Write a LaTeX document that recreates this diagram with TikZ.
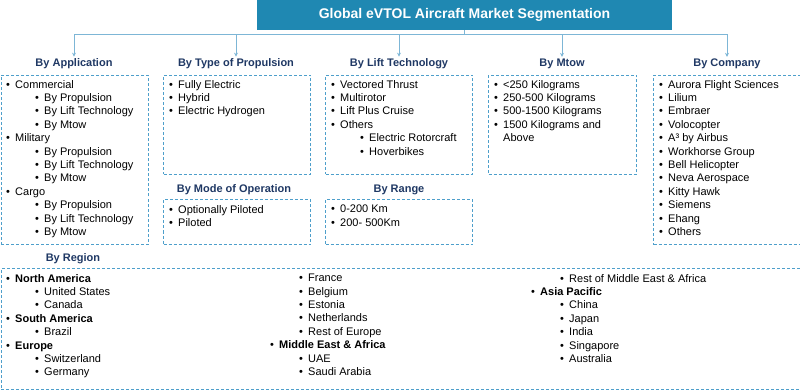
\documentclass[tikz,border=0pt]{standalone}
\usepackage{fontspec}
\setmainfont{Liberation Sans}
\usetikzlibrary{arrows.meta}
\usetikzlibrary{positioning}
\definecolor{azultitulo}{HTML}{1F88B2}
\definecolor{azullinha}{HTML}{7DB6D6}
\definecolor{azulborda}{HTML}{4E9FCB}
\definecolor{azulescuro}{HTML}{1F3864}
\newcommand{\ia}{\makebox[9pt][l]{•}}
\newcommand{\ib}{\hspace*{29pt}\makebox[9pt][l]{•}}
\tikzset{
  titulo/.style={fill=azultitulo, text=white, font=\fontsize{14}{16}\selectfont\bfseries, minimum width=415pt, minimum height=30pt, inner sep=0pt},
  cabeca/.style={text=azulescuro, font=\fontsize{11}{13}\selectfont\bfseries, inner sep=2pt},
  grupo/.style={draw=azulborda, dash pattern=on 3pt off 2pt, line width=1pt, inner sep=0pt, anchor=north west},
  lista/.style={anchor=north west, align=left, inner sep=0pt, font=\fontsize{11}{13.4}\selectfont},
  seta/.style={-{Stealth[length=4pt,width=4pt]}, draw=azullinha, line width=1pt},
}

\begin{document}
\begin{tikzpicture}[x=1pt, y=-1pt]
  \useasboundingbox (0,0) rectangle (800,390);
  \node[titulo] (titulo) at (464.5,15) {Global eVTOL Aircraft Market Segmentation};
  \coordinate (barra) at (464.5,35);

  % cabecalhos
  \node[cabeca] (happ) at (74,64) {By Application};
  \node[cabeca] (hprop) at (236,64) {By Type of Propulsion};
  \node[cabeca] (hlift) at (399,64) {By Lift Technology};
  \node[cabeca] (hmtow) at (562,64) {By Mtow};
  \node[cabeca] (hcomp) at (727,64) {By Company};
  \node[cabeca] (hmodo) at (234,190) {By Mode of Operation};
  \node[cabeca] (hrange) at (399,190) {By Range};
  \node[cabeca] (hreg) at (73,259) {By Region};

  \foreach \h in {happ,hprop,hlift,hmtow,hcomp}
    \draw[seta] (titulo.south) -- (barra) -| (\h.north);

  % caixas
  \node[grupo, minimum width=147pt, minimum height=169pt] (bapp) at (0.5,75) {};
  \node[grupo, minimum width=147pt, minimum height=99pt] (bprop) at (163,75) {};
  \node[grupo, minimum width=147pt, minimum height=99pt] (blift) at (325,75) {};
  \node[grupo, minimum width=148pt, minimum height=99pt] (bmtow) at (488,75) {};
  \node[grupo, minimum width=146.5pt, minimum height=169pt] (bcomp) at (653,75) {};
  \node[grupo, minimum width=147pt, minimum height=45pt] (bmodo) at (163,199) {};
  \node[grupo, minimum width=147pt, minimum height=45pt] (brange) at (325,199) {};
  \node[grupo, minimum width=799pt, minimum height=120.5pt] (breg) at (0.5,268) {};

  % listas
  \node[lista] (lapp) at (6,80) {\ia Commercial\\\ib By Propulsion\\\ib By Lift Technology\\\ib By Mtow\\
    \ia Military\\\ib By Propulsion\\\ib By Lift Technology\\\ib By Mtow\\
    \ia Cargo\\\ib By Propulsion\\\ib By Lift Technology\\\ib By Mtow};
  \node[lista] (lprop) at (169,80) {\ia Fully Electric\\\ia Hybrid\\\ia Electric Hydrogen};
  \node[lista] (llift) at (331,80) {\ia Vectored Thrust\\\ia Multirotor\\\ia Lift Plus Cruise\\\ia Others\\
    \ib Electric Rotorcraft\\\ib Hoverbikes};
  \node[lista] (lmtow) at (494,80) {\ia <250 Kilograms\\\ia 250-500 Kilograms\\\ia 500-1500 Kilograms\\
    \ia 1500 Kilograms and\\\hspace*{9pt}Above};
  \node[lista] (lcomp) at (659,80) {\ia Aurora Flight Sciences\\\ia Lilium\\\ia Embraer\\\ia Volocopter\\
    \ia A³ by Airbus\\\ia Workhorse Group\\\ia Bell Helicopter\\\ia Neva Aerospace\\
    \ia Kitty Hawk\\\ia Siemens\\\ia Ehang\\\ia Others};
  \node[lista] (lmodo) at (169,205) {\ia Optionally Piloted\\\ia Piloted};
  \node[lista] (lrange) at (331,205) {\ia 0-200 Km\\\ia 200- 500Km};

  \node[lista] (lreg1) at (6,274) {\ia\textbf{North America}\\\ib United States\\\ib Canada\\
    \ia\textbf{South America}\\\ib Brazil\\\ia\textbf{Europe}\\\ib Switzerland\\\ib Germany};
  \node[lista] (lreg2) at (270,274) {\ib France\\\ib Belgium\\\ib Estonia\\\ib Netherlands\\\ib Rest of Europe\\
    \ia\textbf{Middle East \& Africa}\\\ib UAE\\\ib Saudi Arabia};
  \node[lista] (lreg3) at (531,274) {\ib Rest of Middle East \& Africa\\\ia\textbf{Asia Pacific}\\
    \ib China\\\ib Japan\\\ib India\\\ib Singapore\\\ib Australia};
\end{tikzpicture}
\end{document}
